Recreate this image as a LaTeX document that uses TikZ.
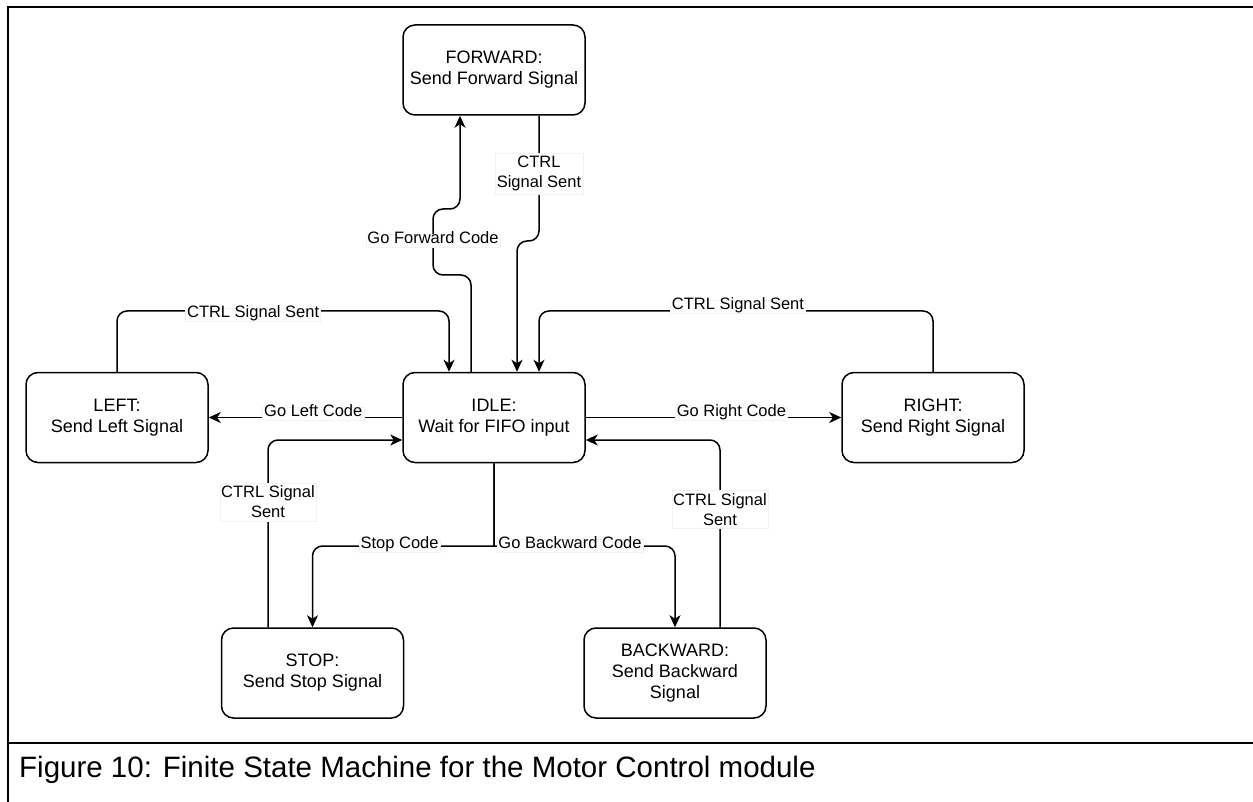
\documentclass[tikz,border=0pt]{standalone}
\usepackage{fontspec}
\setmainfont{Liberation Sans}
\usetikzlibrary{arrows.meta}

\tikzset{
  state/.style={draw, line width=1.5pt, rounded corners=12pt,
    minimum width=182pt, minimum height=90pt, inner sep=0pt,
    align=center, font=\fontsize{18}{21}\selectfont},
  edge/.style={line width=1.5pt, rounded corners=10pt,
    -{Stealth[length=12pt,width=11pt,inset=3.5pt]}},
  lblbase/.style={sharp corners, fill=white, draw=black!5, line width=0.4pt,
    inner sep=1.5pt, align=center, font=\fontsize{16.5}{20}\selectfont},
  lbl/.style={lblbase, text height=0.75em, text depth=0.22em},
  lbltwo/.style={lblbase, inner ysep=3pt},
  frame/.style={line width=2.5pt}
}

\begin{document}
\begin{tikzpicture}[x=1pt, y=-1pt]
  \useasboundingbox (0,0) rectangle (1253,802);
  \clip (0,0) rectangle (1253,802);

  % table cell frame and caption row
  \draw[frame] (1260,7) -- (8,7) -- (8,810);
  \draw[frame] (8,743) -- (1260,743);
  \node[anchor=base west, inner sep=0pt, font=\fontsize{29.5}{34}\selectfont] (caption)
    at (19,777) {Figure 10: Finite State Machine for the Motor Control module};

  % states
  \node[state] (forward)  at (494,70)    {FORWARD:\\Send Forward Signal};
  \node[state] (idle)     at (494,417.5) {IDLE:\\Wait for FIFO input};
  \node[state] (left)     at (117,417.5) {LEFT:\\Send Left Signal};
  \node[state] (right)    at (933,417.5) {RIGHT:\\Send Right Signal};
  \node[state] (stop)     at (312.5,673) {STOP:\\Send Stop Signal};
  \node[state] (backward) at (675,673)   {BACKWARD:\\Send Backward\\Signal};

  % IDLE <-> FORWARD
  \draw[edge] ([xshift=-23pt]idle.north) -- (471,275) -- (433,275)
    -- node[lbl, pos=0.52] {Go Forward Code} (433,209) -- (460,209)
    -- ([xshift=-34pt]forward.south);
  \draw[edge] ([xshift=45pt]forward.south)
    -- node[lbltwo, pos=0.46] {CTRL\\Signal Sent} (539,241) -- (517,241)
    -- ([xshift=23pt]idle.north);

  % IDLE <-> LEFT
  \draw[edge] (left.north) -- (117,311)
    -- node[lbl, pos=0.41, yshift=-4pt] {CTRL Signal Sent} (449,311)
    -- ([xshift=-45pt]idle.north);
  \draw[edge] (idle.west) -- node[lbl, pos=0.46, yshift=4pt] {Go Left Code} (left.east);

  % IDLE <-> RIGHT
  \draw[edge] (idle.east) -- node[lbl, pos=0.57, yshift=4pt] {Go Right Code} (right.west);
  \draw[edge] (right.north) -- (933,311)
    -- node[lbl, pos=0.495, yshift=4pt] {CTRL Signal Sent} (539,311)
    -- ([xshift=45pt]idle.north);

  % IDLE <-> STOP (sharp T junction below IDLE)
  \draw[edge, sharp corners] (idle.south) -- (494,546) [rounded corners=10pt]
    -- node[lbl, pos=0.52] {Stop Code} (312.5,546)
    -- (stop.north);
  \draw[edge] ([xshift=-44.5pt]stop.north)
    -- node[lbltwo, pos=0.67] {CTRL Signal\\Sent} (268,440)
    -- ([yshift=-22.5pt]idle.west);

  % IDLE <-> BACKWARD
  \draw[edge, sharp corners] (idle.south) -- (494,546) [rounded corners=10pt]
    -- node[lbl, pos=0.42] {Go Backward Code} (675,546)
    -- (backward.north);
  \draw[edge] ([xshift=45pt]backward.north)
    -- node[lbltwo, pos=0.63] {CTRL Signal\\Sent} (720,440)
    -- ([yshift=-22.5pt]idle.east);
\end{tikzpicture}
\end{document}
